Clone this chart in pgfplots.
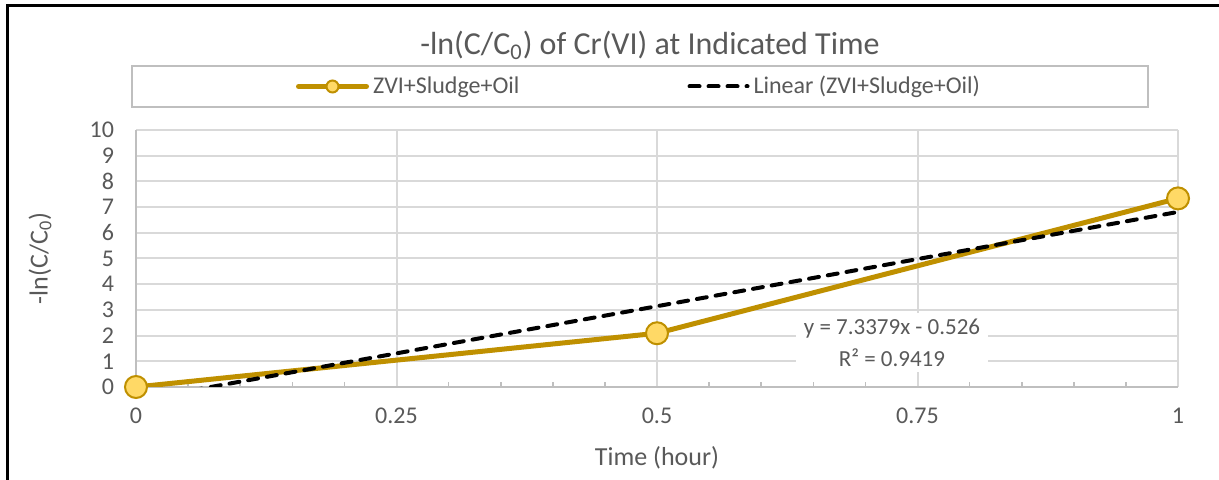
\documentclass[border=0pt]{standalone}
\usepackage{pgfplots}
\pgfplotsset{compat=1.18}
\usepackage{fontspec}
\setmainfont{Carlito}

\definecolor{gold}{HTML}{BF9000}
\definecolor{markfill}{HTML}{FFD966}
\definecolor{gridgray}{HTML}{D9D9D9}
\definecolor{axgray}{HTML}{BFBFBF}
\definecolor{txt}{HTML}{595959}

\pgfplotsset{
  goldlegend/.style={legend image code/.code={
      \draw[mark repeat=2, mark phase=2, ##1, mark size=3pt]
        plot coordinates {(0pt,0pt) (17pt,0pt) (34pt,0pt)};}},
  dashlegend/.style={legend image code/.code={
      \draw[##1] (0pt,0pt) -- (29pt,0pt);}},
}

\begin{document}
\begin{tikzpicture}
  % page frame: 1219x480 px at 0.5pt per px
  \useasboundingbox (0,0) rectangle (609.5pt,240pt);
  \draw[line width=1.5pt] (3.5pt,0) -- (3.5pt,237pt) -- (609.5pt,237pt);

  \begin{axis}[
      at={(68pt,46.5pt)}, anchor=south west,
      scale only axis,
      width=521pt, height=128.5pt,
      xmin=0, xmax=1, ymin=0, ymax=10,
      xtick={0,0.25,0.5,0.75,1},
      xticklabels={0,0.25,0.5,0.75,1},
      ytick={0,1,...,10},
      minor x tick num=4,
      axis lines=left,
      axis line style={-, draw=axgray, line width=1pt},
      grid=major,
      major grid style={draw=gridgray, line width=1pt},
      tick align=inside,
      major tick length=0pt,
      minor tick length=2.5pt,
      minor tick style={draw=axgray, line width=0.8pt},
      clip mode=individual,
      /pgf/number format/assume math mode=true,
      tick label style={font=\fontsize{12}{14}\selectfont, text=txt},
      xticklabel style={anchor=center, yshift=-14.5pt},
      yticklabel style={anchor=east, xshift=-7.5pt},
      title={-ln(C/C\textsubscript{0}) of Cr(VI) at Indicated Time},
      title style={at={(0.4933,1.3307)}, anchor=center, yshift=-6pt,
        font=\fontsize{16}{19}\selectfont, text=txt},
      xlabel={Time (hour)},
      ylabel={-ln(C/C\textsubscript{0})},
      label style={font=\fontsize{13}{16}\selectfont, text=txt},
      xlabel style={at={(axis description cs:0.5,-0.2763)}, anchor=center},
      ylabel style={at={(axis description cs:-0.0921,0.5)}, anchor=center},
      legend columns=2,
      legend style={
        at={(0.4837,1.1693)}, anchor=center,
        draw=axgray, line width=1pt,
        font=\fontsize{12}{14}\selectfont, text=txt,
        inner xsep=82pt, inner ysep=3pt,
        /tikz/every even column/.append style={column sep=82pt},
      },
      legend cell align=left,
    ]

    \addplot[gold, line width=2.5pt, line cap=round,
      mark=*, mark size=5.5pt,
      mark options={fill=markfill, draw=gold, line width=1pt},
      goldlegend
    ] coordinates {
      (0,0)
      (0.5,2.091)
      (1,7.338)
    };
    \addlegendentry{ZVI+Sludge+Oil}

    % linear trend line y = 7.3379x - 0.526
    \addplot[black, line width=2pt, line cap=round,
      dash pattern=on 5pt off 4.5pt,
      dashlegend
    ] coordinates {
      (0,-0.526)
      (1,6.8119)
    };
    \addlegendentry{Linear (ZVI+Sludge+Oil)}

    \node[fill=white, align=center, inner xsep=4pt, inner ysep=3pt,
      font=\fontsize{11.5}{16}\selectfont, text=txt]
      at (axis cs:0.7255,1.73) {y = 7.3379x - 0.526\\R² = 0.9419};
  \end{axis}
\end{tikzpicture}
\end{document}
